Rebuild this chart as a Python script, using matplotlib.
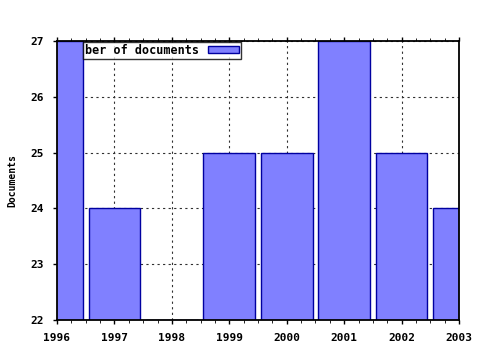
import matplotlib
matplotlib.use("Agg")
import matplotlib.pyplot as plt
from matplotlib.ticker import MultipleLocator

years = [1996, 1997, 1998, 1999, 2000, 2001, 2002, 2003]
documents = [27, 24, 22, 25, 25, 27, 25, 24]
legend_label = "ber of documents"
ylabel = "Documents"

plt.rcParams['font.family'] = ['DejaVu Sans Mono']
plt.rcParams['font.weight'] = 'bold'

fig = plt.figure(figsize=(4.8, 3.5), dpi=100)
ax = fig.add_axes([57/480, 1-320/350, (459-57)/480, (320-41)/350])

ax.bar(years, documents, width=0.9, color='#8080ff', edgecolor='#0000a0',
       linewidth=1.0, label=legend_label, zorder=2)

ax.set_xlim(1996, 2003)
ax.set_ylim(22, 27)
ax.set_xticks(years)
ax.set_xticklabels([str(y) for y in years])
ax.xaxis.set_minor_locator(MultipleLocator(0.25))
ax.set_yticks(range(22, 28))

ax.grid(True, which='major', color='#303030', linestyle=(0, (2, 3)), linewidth=0.8, zorder=1)
ax.set_axisbelow(True)

ax.tick_params(axis='both', which='major', labelsize=8, direction='out', length=3,
               width=1, top=True)
ax.tick_params(axis='x', which='minor', direction='out', length=2, top=True)
ax.tick_params(axis='x', which='major', pad=6.5)
ax.tick_params(axis='y', which='major', pad=6.5)
for s in ax.spines.values():
    s.set_linewidth(1.3)
    s.set_zorder(3)

ax.set_ylabel(ylabel, fontsize=7, fontweight='bold', labelpad=9)

leg = ax.legend(loc='upper left', bbox_to_anchor=((83-57)/402, 1-1/279),
                markerfirst=False, fontsize=8.5, frameon=True, fancybox=False,
                borderpad=0.15, handlelength=2.6, handleheight=0.5,
                handletextpad=0.8, borderaxespad=0)
leg.get_frame().set_edgecolor('black')
leg.get_frame().set_linewidth(1.0)

fig.savefig("out.png", dpi=100)
